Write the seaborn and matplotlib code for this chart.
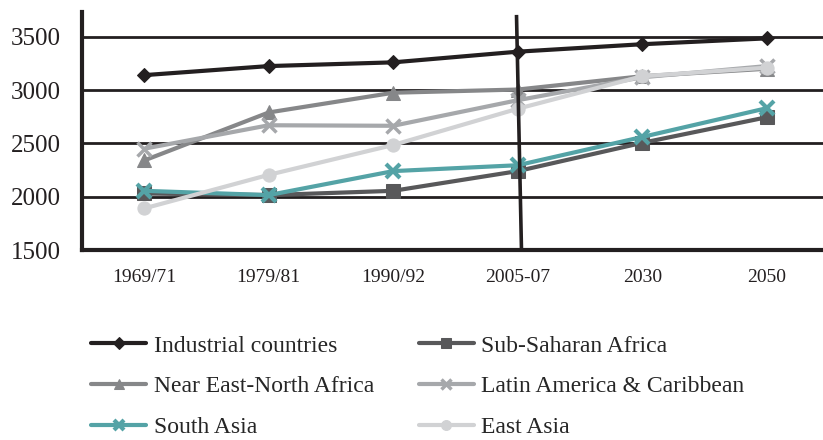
import numpy as np
import pandas as pd
import matplotlib
matplotlib.use("Agg")
import matplotlib.pyplot as plt
import seaborn as sns

# Daily calorie availability (kcal/person/day) by region
periods = ["1969/71", "1979/81", "1990/92", "2005-07", "2030", "2050"]
industrial = [3140, 3225, 3260, 3360, 3430, 3485]
sub_saharan = [2030, 2015, 2055, 2240, 2505, 2745]
near_east = [2340, 2790, 2975, 3005, 3130, 3200]
latin_america = [2450, 2670, 2665, 2905, 3120, 3225]
south_asia = [2055, 2015, 2240, 2295, 2560, 2830]
east_asia = [1890, 2205, 2485, 2825, 3130, 3210]

series_names = ["Industrial countries", "Sub-Saharan Africa",
                "Near East-North Africa", "Latin America & Caribbean",
                "South Asia", "East Asia"]
series_values = [industrial, sub_saharan, near_east, latin_america,
                 south_asia, east_asia]

sns.set_theme(style="white")
plt.rcParams["font.family"] = ["Liberation Serif", "DejaVu Serif"]

df = pd.concat([
    pd.DataFrame({"x": np.arange(len(periods)), "kcal": vals, "region": name})
    for name, vals in zip(series_names, series_values)
], ignore_index=True)

styles = {
    "Industrial countries": dict(color="#231f20", marker="D", markersize=7.5),
    "Sub-Saharan Africa": dict(color="#58585a", marker="s", markersize=10),
    "Near East-North Africa": dict(color="#868789", marker="^", markersize=9.5),
    "Latin America & Caribbean": dict(color="#a6a8ab", marker="x", markersize=10,
                                      markeredgewidth=2.5),
    "South Asia": dict(color="#54a3a6", marker="x", markersize=10,
                       markeredgewidth=3),
    "East Asia": dict(color="#d1d2d4", marker="o", markersize=9.5),
}

fig = plt.figure(figsize=(8.23, 4.40), dpi=100)
ax = fig.add_axes([82 / 823, 1 - 250 / 440, 747 / 823, 238.3 / 440])

for name in series_names:
    st = styles[name]
    sns.lineplot(data=df[df["region"] == name], x="x", y="kcal", ax=ax,
                 label=name, linewidth=3, markeredgecolor=st["color"],
                 **st)

# Divider separating historical values from projections
split = periods.index("2005-07")
ax.plot([split - 0.01, split + 0.03], [3705, 1500], color="#231f20",
        linewidth=2.6, zorder=5, solid_capstyle="butt")

ax.set_xlim(-0.5, len(periods) - 0.5)
ax.set_ylim(1500, 3735)
ax.set_yticks([1500, 2000, 2500, 3000, 3500])
ax.set_xticks(np.arange(len(periods)))
ax.set_xticklabels(periods, fontsize=14, color="#231f20")
ax.set_xticks(np.arange(len(periods) - 1) + 0.5, minor=True)
ax.tick_params(axis="x", which="major", length=0, pad=14)
ax.tick_params(axis="x", which="minor", length=5, width=3, color="#231f20",
               direction="out")
ax.tick_params(axis="y", length=7, width=2, color="#231f20", direction="out",
               labelsize=18, labelcolor="#231f20", pad=8)
ax.yaxis.grid(True, color="#231f20", linewidth=2)
ax.set_axisbelow(True)
ax.set_xlabel("")
ax.set_ylabel("")
for side in ["top", "right"]:
    ax.spines[side].set_visible(False)
for side in ["left", "bottom"]:
    ax.spines[side].set_color("#231f20")
    ax.spines[side].set_linewidth(3)

# Legend entries read row by row across two columns
handles, labels = ax.get_legend_handles_labels()
ax.get_legend().remove()
order = [0, 2, 4, 1, 3, 5]
fig.legend([handles[i] for i in order], [labels[i] for i in order],
           ncol=2, loc="upper left",
           bbox_to_anchor=(91 / 823, 1 - 335 / 440), frameon=False,
           fontsize=17, handlelength=2.35, handletextpad=0.3,
           columnspacing=1.9, labelspacing=0.82, borderpad=0,
           borderaxespad=0, markerscale=0.75)

fig.savefig("out.png", dpi=100)
